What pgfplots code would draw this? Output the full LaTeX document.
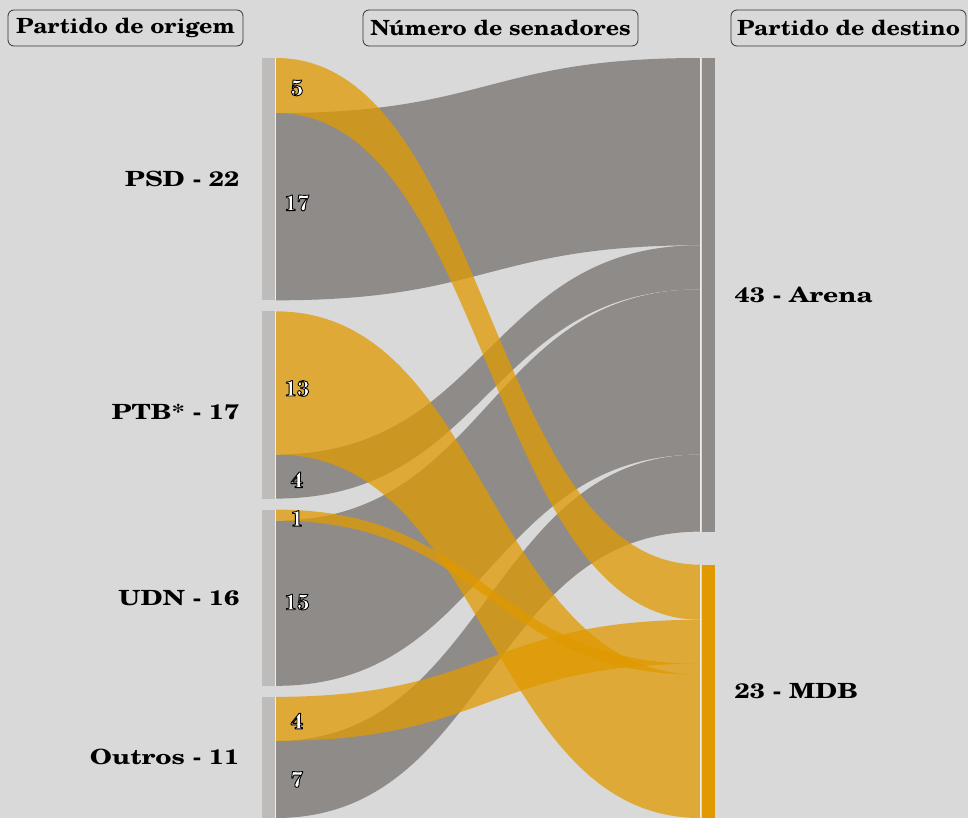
\documentclass[border=0pt]{standalone}
\usepackage{graphicx}
\usepackage{pgfplots}
\pgfplotsset{compat=1.18}
\usepackage{fontspec}
\setmainfont{TeX Gyre Schola}
\definecolor{bg}{HTML}{D9D9D9}
\definecolor{nodegray}{HTML}{BDBCBB}
\definecolor{flowgray}{HTML}{8F8B89}
\definecolor{flowor}{HTML}{E09A00}
\definecolor{sep}{HTML}{EDEDED}
\newcommand{\flow}[5]{% color, s0, s1, t0, t1 (units)
  \fill[#1] (axis cs:276,#2) .. controls (axis cs:488,#2) and (axis cs:488,#4) .. (axis cs:700,#4)
    -- (axis cs:700,#5) .. controls (axis cs:488,#5) and (axis cs:488,#3) .. (axis cs:276,#3) -- cycle;}
\newcommand{\numfont}{\bfseries\fontsize{22}{22}\selectfont}
\newcommand{\outlined}[1]{{\color{white}\special{pdf:literal 0 G 2 Tr 0.9 w 1 j}#1\special{pdf:literal 0 Tr}}}
\newcommand{\numlab}[2]{%
  \node[font=\numfont] at (axis cs:297,#1) {\outlined{#2}};}
\begin{document}
\begin{tikzpicture}
\begin{axis}[
  width=968bp, height=818bp, scale only axis,
  xmin=0, xmax=968, ymin=-5.2663, ymax=69, y dir=reverse,
  hide axis, clip=true,
]
\fill[bg] (rel axis cs:0,0) rectangle (rel axis cs:1,1);
% source nodes (senators, units from top)
\addplot[fill=nodegray, draw=none] coordinates {(262,0) (275,0) (275,22) (262,22)} -- cycle;
\addplot[fill=nodegray, draw=none] coordinates {(262,23) (275,23) (275,40) (262,40)} -- cycle;
\addplot[fill=nodegray, draw=none] coordinates {(262,41) (275,41) (275,57) (262,57)} -- cycle;
\addplot[fill=nodegray, draw=none] coordinates {(262,58) (275,58) (275,69) (262,69)} -- cycle;
% target nodes
\addplot[fill=flowgray, draw=none] coordinates {(701.5,0) (715,0) (715,43) (701.5,43)} -- cycle;
\addplot[fill=flowor, draw=none] coordinates {(701.5,46) (715,46) (715,69) (701.5,69)} -- cycle;
% flows to Arena
\flow{flowgray}{5}{22}{0}{17}
\flow{flowgray}{36}{40}{17}{21}
\flow{flowgray}{42}{57}{21}{36}
\flow{flowgray}{62}{69}{36}{43}
% flows to MDB
\flow{flowor,fill opacity=0.75}{0}{5}{46}{51}
\flow{flowor,fill opacity=0.75}{58}{62}{51}{55}
\flow{flowor,fill opacity=0.75}{41}{42}{55}{56}
\flow{flowor,fill opacity=0.75}{23}{36}{56}{69}
% thin separators along the nodes
\foreach \a/\b in {0/22,23/40,41/57,58/69}{
  \edef\tmp{\noexpand\draw[sep, line width=1bp] (axis cs:275.5,\a) -- (axis cs:275.5,\b);}\tmp}
\draw[sep, line width=1bp] (axis cs:700.6,0) -- (axis cs:700.6,43);
\draw[sep, line width=1bp] (axis cs:700.6,46) -- (axis cs:700.6,69);
% flow value labels
\numlab{2.72}{5}
\numlab{13.16}{17}
\numlab{30.0}{13}
\numlab{38.3}{4}
\numlab{41.8}{1}
\numlab{49.4}{15}
\numlab{60.2}{4}
\numlab{65.5}{7}
% node labels
\begin{scope}[every node/.style={font=\bfseries\fontsize{21}{21}\selectfont, text=black}]
\node[anchor=east] at (axis cs:243,11) {\scalebox{1.27}[1]{PSD - 22}};
\node[anchor=east] at (axis cs:243,32.1) {\scalebox{1.27}[1]{PTB* - 17}};
\node[anchor=east] at (axis cs:243,49) {\scalebox{1.27}[1]{UDN - 16}};
\node[anchor=east] at (axis cs:243,63.5) {\scalebox{1.27}[1]{Outros - 11}};
\node[anchor=west] at (axis cs:731,21.5) {\scalebox{1.27}[1]{43 - Arena}};
\node[anchor=west] at (axis cs:731,57.5) {\scalebox{1.27}[1]{23 - MDB}};
\end{scope}
% column titles
\begin{scope}[every node/.style={font=\bfseries\fontsize{21}{21}\selectfont, draw=black!80, line width=0.8bp, rounded corners=6bp, minimum height=36bp, inner sep=0pt}]
\node[minimum width=235bp] at (axis cs:125.5,-2.724) {\scalebox{1.11}[1]{Partido de origem}};
\node[minimum width=275bp] at (axis cs:500.5,-2.724) {\scalebox{1.11}[1]{Número de senadores}};
\node[minimum width=235bp] at (axis cs:848.5,-2.724) {\scalebox{1.11}[1]{Partido de destino}};
\end{scope}
\end{axis}
\end{tikzpicture}
\end{document}
